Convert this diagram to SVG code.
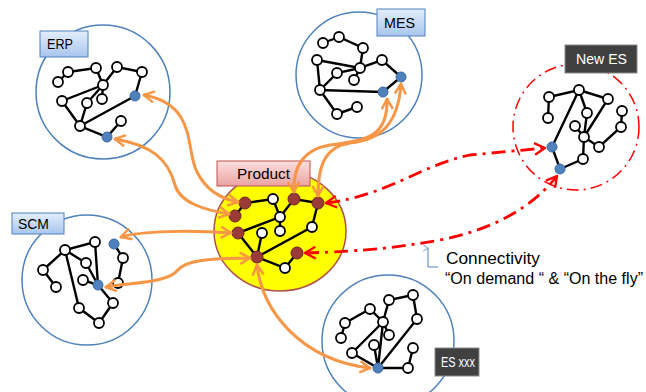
<svg xmlns="http://www.w3.org/2000/svg" width="646" height="392" viewBox="0 0 646 392">
<defs>
<linearGradient id="gBlue" x1="0" y1="0" x2="0" y2="1"><stop offset="0" stop-color="#e4eefb"/><stop offset="1" stop-color="#a8c5ee"/></linearGradient>
<linearGradient id="gPink" x1="0" y1="0" x2="0" y2="1"><stop offset="0" stop-color="#fbe0df"/><stop offset="1" stop-color="#eba3a1"/></linearGradient>
<marker id="mo" viewBox="0 0 12 12" refX="10" refY="6" markerWidth="4.5" markerHeight="4.5" orient="auto-start-reverse" markerUnits="strokeWidth"><path d="M1,1 L10,6 L1,11" fill="none" stroke="#f79646" stroke-width="2.2" stroke-linejoin="round" stroke-dasharray="none"/></marker>
<marker id="mr" viewBox="0 0 12 12" refX="10" refY="6" markerWidth="5" markerHeight="5" orient="auto-start-reverse" markerUnits="strokeWidth"><path d="M1,1 L10,6 L1,11" fill="none" stroke="#ff0000" stroke-width="2" stroke-linejoin="round" stroke-dasharray="none"/></marker>
<marker id="mb" viewBox="0 0 10 10" refX="5" refY="1" markerWidth="8" markerHeight="8" orient="auto" markerUnits="userSpaceOnUse"><path d="M1,7 L5,1 L9,7" fill="none" stroke="#4f81bd" stroke-width="1"/></marker>
</defs>
<style>
.sys{fill:none;stroke:#4f81bd;stroke-width:1.5}
.e{stroke:#000;stroke-width:2.4;fill:none;stroke-linecap:round}
.n{fill:#fff;stroke:#000;stroke-width:1.8}
.b{fill:#4f81bd;stroke:#3a6aa5;stroke-width:1}
.p{fill:#9b3b38;stroke:#6e2321;stroke-width:1}
.lb{fill:url(#gBlue);stroke:#4f81bd;stroke-width:1}
.ld{fill:#404040;stroke:#8a8a8a;stroke-width:1}
.t{font-family:"Liberation Sans",Arial,sans-serif;font-size:14px;fill:#000}
.tw{font-family:"Liberation Sans",Arial,sans-serif;font-size:14px;fill:#fff}
.ta{font-family:"Liberation Sans",Arial,sans-serif;font-size:16px;fill:#000}
.oa{fill:none;stroke:#f79646;stroke-width:3;stroke-linecap:round;marker-start:url(#mo);marker-end:url(#mo)}
.ra{fill:none;stroke:#ff0000;stroke-width:2.8;stroke-dasharray:14 6 3 6;marker-start:url(#mr);marker-end:url(#mr)}
</style>

<g id="erp">
<circle class="sys" cx="103" cy="92" r="67"/>
<path class="e" d="M58,82 L68,72 L96,68 L103,85 L117,67 L142,72 L135,96 L80,126 L107,137 L121,121 M103,85 L102,99 M103,85 L62,101 L80,126 M103,85 L87,103 L80,126"/>
<circle class="n" cx="68" cy="72" r="5"/><circle class="n" cx="58" cy="82" r="5"/><circle class="n" cx="96" cy="68" r="5"/><circle class="n" cx="117" cy="67" r="5"/><circle class="n" cx="142" cy="72" r="5"/><circle class="n" cx="103" cy="85" r="5"/><circle class="n" cx="102" cy="99" r="5"/><circle class="n" cx="62" cy="101" r="5"/><circle class="n" cx="87" cy="103" r="5"/><circle class="n" cx="80" cy="126" r="5"/><circle class="n" cx="121" cy="121" r="5"/>
<circle class="b" cx="135" cy="96" r="5"/><circle class="b" cx="107" cy="137" r="5"/>
<rect class="lb" x="40" y="31" width="48" height="26"/><text class="t" x="47" y="49" textLength="26" lengthAdjust="spacingAndGlyphs">ERP</text>
</g>

<g id="mes">
<circle class="sys" cx="359" cy="75" r="63"/>
<path class="e" d="M323,43 L339,37 L363,48 L360,68 L382,60 L401,77 L383,92 L320,90 L337,114 L357,107 M317,60 L360,68 M317,60 L320,90 L337,73 L360,68 L354,80"/>
<circle class="n" cx="323" cy="43" r="5"/><circle class="n" cx="339" cy="37" r="5"/><circle class="n" cx="363" cy="48" r="5"/><circle class="n" cx="317" cy="60" r="5"/><circle class="n" cx="382" cy="60" r="5"/><circle class="n" cx="360" cy="68" r="5"/><circle class="n" cx="337" cy="73" r="5"/><circle class="n" cx="354" cy="80" r="5"/><circle class="n" cx="320" cy="90" r="5"/><circle class="n" cx="357" cy="107" r="5"/><circle class="n" cx="337" cy="114" r="5"/>
<circle class="b" cx="401" cy="77" r="5"/><circle class="b" cx="383" cy="92" r="5"/>
<rect class="lb" x="377" y="9" width="48" height="27"/><text class="t" x="384" y="28" textLength="31" lengthAdjust="spacingAndGlyphs">MES</text>
</g>

<g id="newes">
<circle cx="576" cy="127" r="63" fill="none" stroke="#ff0000" stroke-width="1.5" stroke-dasharray="12 5 2 5"/>
<path class="e" d="M548,118 L549,97 L579,90 L608,99 L584,137 L599,147 L621,127 L622,111 M579,90 L587,113 L584,137 L583,159 L560,169 L552,147 L579,90 M575,126 L584,137"/>
<circle class="n" cx="549" cy="97" r="5"/><circle class="n" cx="548" cy="118" r="5"/><circle class="n" cx="579" cy="90" r="5"/><circle class="n" cx="608" cy="99" r="5"/><circle class="n" cx="587" cy="113" r="5"/><circle class="n" cx="622" cy="111" r="5"/><circle class="n" cx="621" cy="127" r="5"/><circle class="n" cx="575" cy="126" r="5"/><circle class="n" cx="584" cy="137" r="5"/><circle class="n" cx="599" cy="147" r="5"/><circle class="n" cx="583" cy="159" r="5"/>
<circle class="b" cx="552" cy="147" r="5"/><circle class="b" cx="560" cy="169" r="5"/>
<rect class="ld" x="565" y="45" width="72" height="28"/><text class="tw" x="576" y="64" textLength="51" lengthAdjust="spacingAndGlyphs">New ES</text>
</g>

<g id="scm">
<circle class="sys" cx="87" cy="280" r="65"/>
<path class="e" d="M95,242 L65,250 L43,270 L56,287 M95,242 L98,285 M65,250 L86,263 L98,285 M65,250 L79,308 L99,323 L113,303 L98,285 L83,280 M114,244 L123,258 L118,283"/>
<circle class="n" cx="65" cy="250" r="5"/><circle class="n" cx="95" cy="242" r="5"/><circle class="n" cx="123" cy="258" r="5"/><circle class="n" cx="86" cy="263" r="5"/><circle class="n" cx="43" cy="270" r="5"/><circle class="n" cx="56" cy="287" r="5"/><circle class="n" cx="83" cy="280" r="5"/><circle class="n" cx="118" cy="283" r="5"/><circle class="n" cx="113" cy="303" r="5"/><circle class="n" cx="79" cy="308" r="5"/><circle class="n" cx="99" cy="323" r="5"/>
<circle class="b" cx="114" cy="244" r="5"/><circle class="b" cx="98" cy="285" r="5"/>
<rect class="lb" x="12" y="213" width="52" height="21"/><text class="t" x="18" y="229" textLength="31" lengthAdjust="spacingAndGlyphs">SCM</text>
</g>

<g id="esxxx">
<circle class="sys" cx="388" cy="341" r="66"/>
<path class="e" d="M341,338 L345,323 L370,309 L383,322 L389,335 M383,322 L352,353 L378,368 L408,368 L413,348 M383,322 L378,368 M374,345 L378,368 M383,322 L389,300 L413,295 L417,319 L378,368"/>
<circle class="n" cx="345" cy="323" r="5"/><circle class="n" cx="341" cy="338" r="5"/><circle class="n" cx="370" cy="309" r="5"/><circle class="n" cx="383" cy="322" r="5"/><circle class="n" cx="389" cy="335" r="5"/><circle class="n" cx="374" cy="345" r="5"/><circle class="n" cx="352" cy="353" r="5"/><circle class="n" cx="408" cy="368" r="5"/><circle class="n" cx="413" cy="348" r="5"/><circle class="n" cx="389" cy="300" r="5"/><circle class="n" cx="413" cy="295" r="5"/><circle class="n" cx="417" cy="319" r="5"/>
<circle class="b" cx="378" cy="368" r="5"/>
<rect class="ld" x="435" y="348" width="44" height="28"/><text class="tw" x="441" y="367" textLength="34" lengthAdjust="spacingAndGlyphs">ES xxx</text>
</g>

<g id="product">
<ellipse cx="280" cy="231" rx="66" ry="60" fill="#ffff00" stroke="#b0504d" stroke-width="1.5"/>
<path class="e" d="M235,216 L245,203 L273,199 L280,217 L280,231 M280,217 L294,199 L318,203 L312,227 L257,257 L285,268 L297,253 M280,217 L238,233 L257,257 L262,233"/>
<circle class="n" cx="273" cy="199" r="5"/><circle class="n" cx="280" cy="217" r="5"/><circle class="n" cx="280" cy="231" r="5"/><circle class="n" cx="262" cy="233" r="5"/><circle class="n" cx="312" cy="227" r="5"/><circle class="n" cx="285" cy="268" r="5"/>
<circle class="p" cx="245" cy="203" r="6"/><circle class="p" cx="235" cy="216" r="6"/><circle class="p" cx="238" cy="233" r="6"/><circle class="p" cx="257" cy="257" r="6"/><circle class="p" cx="294" cy="199" r="6"/><circle class="p" cx="318" cy="203" r="6"/><circle class="p" cx="297" cy="253" r="6"/>
<rect x="217" y="161" width="93" height="25" fill="url(#gPink)" stroke="#c0504d" stroke-width="1"/><text class="t" x="237" y="179" textLength="53" lengthAdjust="spacingAndGlyphs">Product</text>
</g>

<g id="connectors">
<path class="oa" d="M144,95 C198,105 185,150 197,172 C206,190 222,199 238,202"/>
<path class="oa" d="M115,139 C150,145 168,158 175,185 C180,203 205,210 229,214"/>
<path class="oa" d="M121,237 C140,231 190,230 231,233"/>
<path class="oa" d="M106,287 C140,282 168,282 178,270 C188,258 220,259 250,258"/>
<path class="oa" d="M257,265 C262,310 300,360 370,368"/>
<path class="oa" d="M387,99 C388,135 370,140 330,145 C300,150 293,170 294,192"/>
<path class="oa" d="M401,84 C398,125 380,140 350,143 C325,147 318,165 318,196"/>
<path class="ra" d="M326,203 C390,195 420,165 470,155 L545,148"/>
<path class="ra" d="M305,253 C370,251 400,247 440,240 C490,230 530,210 557,176"/>
<path d="M428,248 L428,267 L438,267" fill="none" stroke="#4f81bd" stroke-width="1" marker-start="url(#mb)"/>
</g>
<text class="ta" x="446" y="264" textLength="94" lengthAdjust="spacingAndGlyphs">Connectivity</text>
<text class="ta" x="445" y="284" textLength="198" lengthAdjust="spacingAndGlyphs">“On demand “ &amp; “On the fly”</text>
</svg>
